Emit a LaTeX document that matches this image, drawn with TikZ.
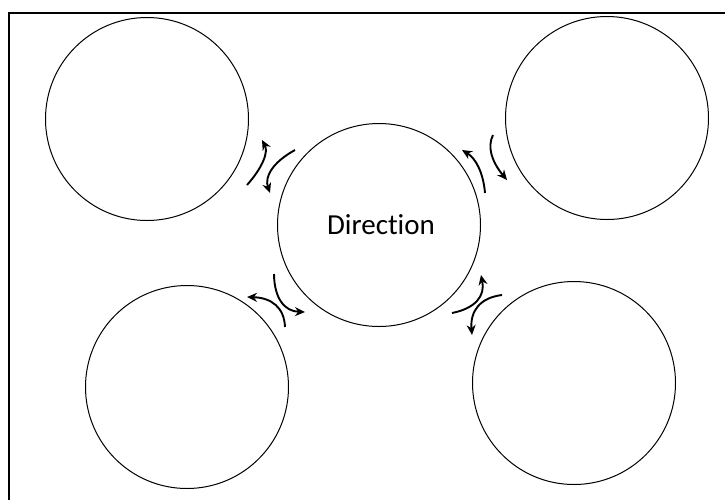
\documentclass[tikz,border=0pt]{standalone}
\usepackage{fontspec}
\setmainfont{Carlito}[Ligatures={NoCommon}]
\usetikzlibrary{arrows.meta}
\begin{document}
\begin{tikzpicture}[x=1pt,y=-1pt,
  bubble/.style={circle,draw,line width=1pt,minimum size=203pt,inner sep=0pt},
  cyc/.style={line width=1.9pt,-{Stealth[length=10pt,width=9pt]}}]
\useasboundingbox (0,0) rectangle (725,499);
\draw[line width=2pt] (735,12.5) -- (8.5,12.5) -- (8.5,510);
\node[bubble] (tl) at (147,119) {};
\node[bubble] (tr) at (607,118) {};
\node[bubble] (c) at (379,225) {};
\node[font=\fontsize{29}{34}\selectfont] (lbl) at (381,225) {Direction};
\node[bubble] (bl) at (187,387) {};
\node[bubble] (br) at (574,383) {};
% arrow end points
\coordinate (a1) at (247,185); \coordinate (a2) at (262,140);
\coordinate (b1) at (295,150); \coordinate (b2) at (270,193);
\coordinate (c1) at (485,193); \coordinate (c2) at (462,150);
\coordinate (d1) at (493,135); \coordinate (d2) at (507,180);
\coordinate (e1) at (285,327); \coordinate (e2) at (247,297);
\coordinate (f1) at (274,274); \coordinate (f2) at (305,312);
\coordinate (g1) at (452,313); \coordinate (g2) at (481,275);
\coordinate (h1) at (502,295); \coordinate (h2) at (472,335);
\draw[cyc] (a1) .. controls (263.3,166.7) and (268.3,151.7) .. (a2);
\draw[cyc] (b1) .. controls (272.7,162.3) and (264.3,176.7) .. (b2);
\draw[cyc] (c1) .. controls (483.3,172.7) and (475.7,158.3) .. (c2);
\draw[cyc] (d1) .. controls (487,146.7) and (491.7,161.7) .. (d2);
\draw[cyc] (e1) .. controls (284.3,307.7) and (271.7,297.7) .. (e2);
\draw[cyc] (f1) .. controls (274.3,298.7) and (284.7,311.3) .. (f2);
\draw[cyc] (g1) .. controls (475.7,308.3) and (485.3,295.7) .. (g2);
\draw[cyc] (h1) .. controls (480,297.7) and (470,311) .. (h2);
\end{tikzpicture}
\end{document}
